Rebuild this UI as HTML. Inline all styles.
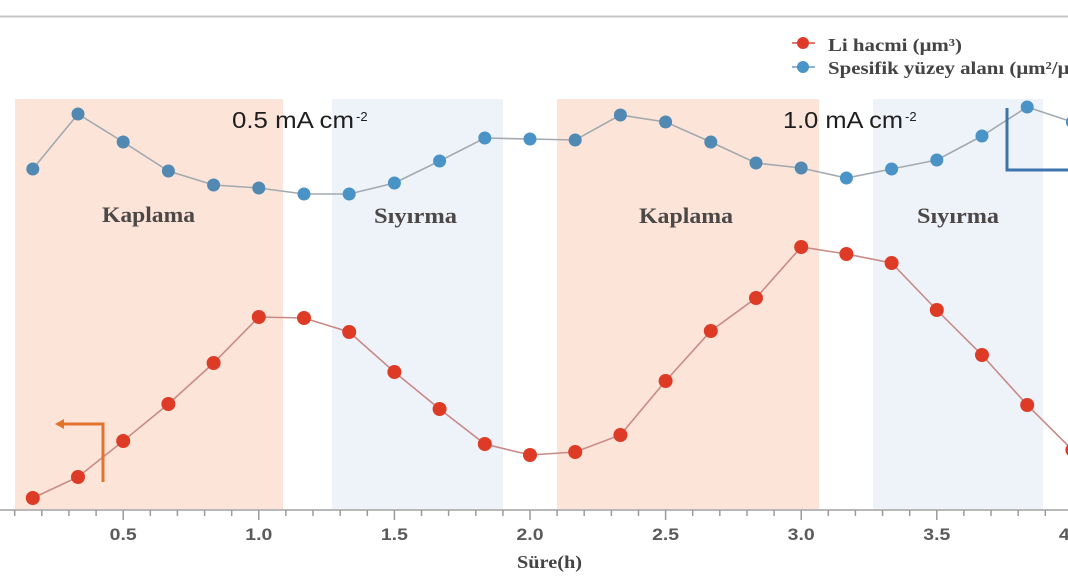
<!DOCTYPE html>
<html>
<head>
<meta charset="utf-8">
<style>
  html,body{margin:0;padding:0;background:#fff;}
  svg{display:block;}
</style>
</head>
<body>
<svg width="1068" height="580" viewBox="0 0 1068 580" xmlns="http://www.w3.org/2000/svg">
  <rect x="0" y="0" width="1068" height="580" fill="#ffffff"/>
  <!-- top rule -->
  <line x1="0" y1="16.5" x2="1068" y2="16.5" stroke="#c4c4c4" stroke-width="2"/>

  <!-- shaded regions -->
  <rect x="15" y="99" width="268" height="411" fill="#fce4d8"/>
  <rect x="332" y="99" width="171" height="411" fill="#eef2f9"/>
  <rect x="557" y="99" width="262" height="411" fill="#fce4d8"/>
  <rect x="873" y="99" width="170" height="411" fill="#eef2f9"/>

  <!-- x axis -->
  <line x1="0" y1="510" x2="1068" y2="510" stroke="#b8b8b8" stroke-width="2"/>
  <g stroke="#9a9a9a" stroke-width="1.5">
    <line x1="14.7" y1="510" x2="14.7" y2="516"/>
    <line x1="41.8" y1="510" x2="41.8" y2="516"/>
    <line x1="68.9" y1="510" x2="68.9" y2="516"/>
    <line x1="96.1" y1="510" x2="96.1" y2="516"/>
    <line x1="123.2" y1="510" x2="123.2" y2="520"/>
    <line x1="150.3" y1="510" x2="150.3" y2="516"/>
    <line x1="177.4" y1="510" x2="177.4" y2="516"/>
    <line x1="204.6" y1="510" x2="204.6" y2="516"/>
    <line x1="231.7" y1="510" x2="231.7" y2="516"/>
    <line x1="258.8" y1="510" x2="258.8" y2="520"/>
    <line x1="285.9" y1="510" x2="285.9" y2="516"/>
    <line x1="313.0" y1="510" x2="313.0" y2="516"/>
    <line x1="340.2" y1="510" x2="340.2" y2="516"/>
    <line x1="367.3" y1="510" x2="367.3" y2="516"/>
    <line x1="394.4" y1="510" x2="394.4" y2="520"/>
    <line x1="421.5" y1="510" x2="421.5" y2="516"/>
    <line x1="448.6" y1="510" x2="448.6" y2="516"/>
    <line x1="475.8" y1="510" x2="475.8" y2="516"/>
    <line x1="502.9" y1="510" x2="502.9" y2="516"/>
    <line x1="530.0" y1="510" x2="530.0" y2="520"/>
    <line x1="557.1" y1="510" x2="557.1" y2="516"/>
    <line x1="584.2" y1="510" x2="584.2" y2="516"/>
    <line x1="611.4" y1="510" x2="611.4" y2="516"/>
    <line x1="638.5" y1="510" x2="638.5" y2="516"/>
    <line x1="665.6" y1="510" x2="665.6" y2="520"/>
    <line x1="692.7" y1="510" x2="692.7" y2="516"/>
    <line x1="719.8" y1="510" x2="719.8" y2="516"/>
    <line x1="747.0" y1="510" x2="747.0" y2="516"/>
    <line x1="774.1" y1="510" x2="774.1" y2="516"/>
    <line x1="801.2" y1="510" x2="801.2" y2="520"/>
    <line x1="828.3" y1="510" x2="828.3" y2="516"/>
    <line x1="855.4" y1="510" x2="855.4" y2="516"/>
    <line x1="882.6" y1="510" x2="882.6" y2="516"/>
    <line x1="909.7" y1="510" x2="909.7" y2="516"/>
    <line x1="936.8" y1="510" x2="936.8" y2="520"/>
    <line x1="963.9" y1="510" x2="963.9" y2="516"/>
    <line x1="991.0" y1="510" x2="991.0" y2="516"/>
    <line x1="1018.2" y1="510" x2="1018.2" y2="516"/>
    <line x1="1045.3" y1="510" x2="1045.3" y2="516"/>
  </g>
  <g font-family="Liberation Sans, Arial, sans-serif" font-size="17" font-weight="bold" fill="#5a5a5a" text-anchor="middle">
    <text x="123.2" y="540" textLength="27" lengthAdjust="spacingAndGlyphs">0.5</text>
    <text x="258.8" y="540" textLength="27" lengthAdjust="spacingAndGlyphs">1.0</text>
    <text x="394.4" y="540" textLength="27" lengthAdjust="spacingAndGlyphs">1.5</text>
    <text x="530.0" y="540" textLength="27" lengthAdjust="spacingAndGlyphs">2.0</text>
    <text x="665.6" y="540" textLength="27" lengthAdjust="spacingAndGlyphs">2.5</text>
    <text x="801.2" y="540" textLength="27" lengthAdjust="spacingAndGlyphs">3.0</text>
    <text x="936.8" y="540" textLength="27" lengthAdjust="spacingAndGlyphs">3.5</text>
    <text x="1072.4" y="540" textLength="27" lengthAdjust="spacingAndGlyphs">4.0</text>
  </g>
  <text x="517" y="568" font-family="Liberation Serif, 'Times New Roman', serif" font-weight="bold" font-size="18" fill="#444" textLength="65" lengthAdjust="spacingAndGlyphs">Süre(h)</text>

  <!-- region labels -->
  <g font-family="Liberation Serif, 'Times New Roman', serif" font-weight="bold" font-size="22" fill="#4d4848">
    <text x="102" y="222" textLength="93" lengthAdjust="spacingAndGlyphs">Kaplama</text>
    <text x="374" y="223" textLength="83" lengthAdjust="spacingAndGlyphs">Sıyırma</text>
    <text x="639" y="223" textLength="94" lengthAdjust="spacingAndGlyphs">Kaplama</text>
    <text x="917" y="223" textLength="82" lengthAdjust="spacingAndGlyphs">Sıyırma</text>
  </g>

  <!-- current density labels -->
  <g font-family="Liberation Sans, Arial, sans-serif" fill="#1e1e1e">
    <text x="232" y="128" font-size="23" textLength="122" lengthAdjust="spacingAndGlyphs">0.5 mA cm</text>
    <text x="356" y="121" font-size="13">-2</text>
    <text x="783" y="128" font-size="23" textLength="120" lengthAdjust="spacingAndGlyphs">1.0 mA cm</text>
    <text x="905" y="121" font-size="13">-2</text>
  </g>

  <!-- blue series -->
  <polyline fill="none" stroke="#a2aab0" stroke-width="1.6"
    points="32.8,169 78,114 123.2,142 168.4,171 213.6,185 258.8,188 304,194 349.2,194 394.4,183 439.6,161 484.8,138 530,139 575.2,140 620.4,115 665.6,122 710.8,142 756,163 801.2,168 846.4,178 891.6,169 936.8,160 982,136 1027.2,107 1072.4,122"/>
  <g fill="#5189b3">
    <circle cx="32.8" cy="169" r="6.5"/>
    <circle cx="78" cy="114" r="6.5"/>
    <circle cx="123.2" cy="142" r="6.5"/>
    <circle cx="168.4" cy="171" r="6.5"/>
    <circle cx="213.6" cy="185" r="6.5"/>
    <circle cx="258.8" cy="188" r="6.5"/>
    <circle cx="304" cy="194" r="6.5" fill="#4a93c6"/>
    <circle cx="349.2" cy="194" r="6.5" fill="#4a93c6"/>
    <circle cx="394.4" cy="183" r="6.5" fill="#4a93c6"/>
    <circle cx="439.6" cy="161" r="6.5" fill="#4a93c6"/>
    <circle cx="484.8" cy="138" r="6.5" fill="#4a93c6"/>
    <circle cx="530" cy="139" r="6.5" fill="#4a93c6"/>
    <circle cx="575.2" cy="140" r="6.5"/>
    <circle cx="620.4" cy="115" r="6.5"/>
    <circle cx="665.6" cy="122" r="6.5"/>
    <circle cx="710.8" cy="142" r="6.5"/>
    <circle cx="756" cy="163" r="6.5"/>
    <circle cx="801.2" cy="168" r="6.5"/>
    <circle cx="846.4" cy="178" r="6.5" fill="#4a93c6"/>
    <circle cx="891.6" cy="169" r="6.5" fill="#4a93c6"/>
    <circle cx="936.8" cy="160" r="6.5" fill="#4a93c6"/>
    <circle cx="982" cy="136" r="6.5" fill="#4a93c6"/>
    <circle cx="1027.2" cy="107" r="6.5" fill="#4a93c6"/>
    <circle cx="1072.4" cy="122" r="6.5" fill="#4a93c6"/>
  </g>

  <!-- red series -->
  <polyline fill="none" stroke="#c98a86" stroke-width="1.6"
    points="32.8,498 78,477 123.2,441 168.4,404 213.6,363 258.8,317 304,318 349.2,332 394.4,372 439.6,409 484.8,444 530,455 575.2,452 620.4,435 665.6,381 710.8,331 756,298 801.2,247 846.4,254 891.6,263 936.8,310 982,355 1027.2,405 1072.4,450"/>
  <g fill="#de3b27">
    <circle cx="32.8" cy="498" r="7"/>
    <circle cx="78" cy="477" r="7"/>
    <circle cx="123.2" cy="441" r="7"/>
    <circle cx="168.4" cy="404" r="7"/>
    <circle cx="213.6" cy="363" r="7"/>
    <circle cx="258.8" cy="317" r="7"/>
    <circle cx="304" cy="318" r="7"/>
    <circle cx="349.2" cy="332" r="7"/>
    <circle cx="394.4" cy="372" r="7"/>
    <circle cx="439.6" cy="409" r="7"/>
    <circle cx="484.8" cy="444" r="7"/>
    <circle cx="530" cy="455" r="7"/>
    <circle cx="575.2" cy="452" r="7"/>
    <circle cx="620.4" cy="435" r="7"/>
    <circle cx="665.6" cy="381" r="7"/>
    <circle cx="710.8" cy="331" r="7"/>
    <circle cx="756" cy="298" r="7"/>
    <circle cx="801.2" cy="247" r="7"/>
    <circle cx="846.4" cy="254" r="7"/>
    <circle cx="891.6" cy="263" r="7"/>
    <circle cx="936.8" cy="310" r="7"/>
    <circle cx="982" cy="355" r="7"/>
    <circle cx="1027.2" cy="405" r="7"/>
    <circle cx="1072.4" cy="450" r="7"/>
  </g>

  <!-- orange axis indicator arrow -->
  <path d="M103,482 V424 H62" fill="none" stroke="#e2742f" stroke-width="3"/>
  <polygon points="55,424 64,419 64,429" fill="#e2742f"/>

  <!-- blue axis indicator bracket -->
  <path d="M1007,108 V170 H1068" fill="none" stroke="#3d74ad" stroke-width="3"/>

  <!-- legend -->
  <line x1="792" y1="43" x2="815" y2="43" stroke="#e07a70" stroke-width="2"/>
  <circle cx="803" cy="43" r="6" fill="#e03a2a"/>
  <line x1="792" y1="67" x2="815" y2="67" stroke="#8fb3cf" stroke-width="2"/>
  <circle cx="803" cy="67" r="6" fill="#4a94c8"/>
  <g font-family="Liberation Serif, 'Times New Roman', serif" font-weight="bold" font-size="18" fill="#444">
    <text x="828" y="51" textLength="134" lengthAdjust="spacingAndGlyphs">Li hacmi (μm³)</text>
    <text x="828" y="74" textLength="272" lengthAdjust="spacingAndGlyphs">Spesifik yüzey alanı (μm²/μm³)</text>
  </g>
</svg>
</body>
</html>
